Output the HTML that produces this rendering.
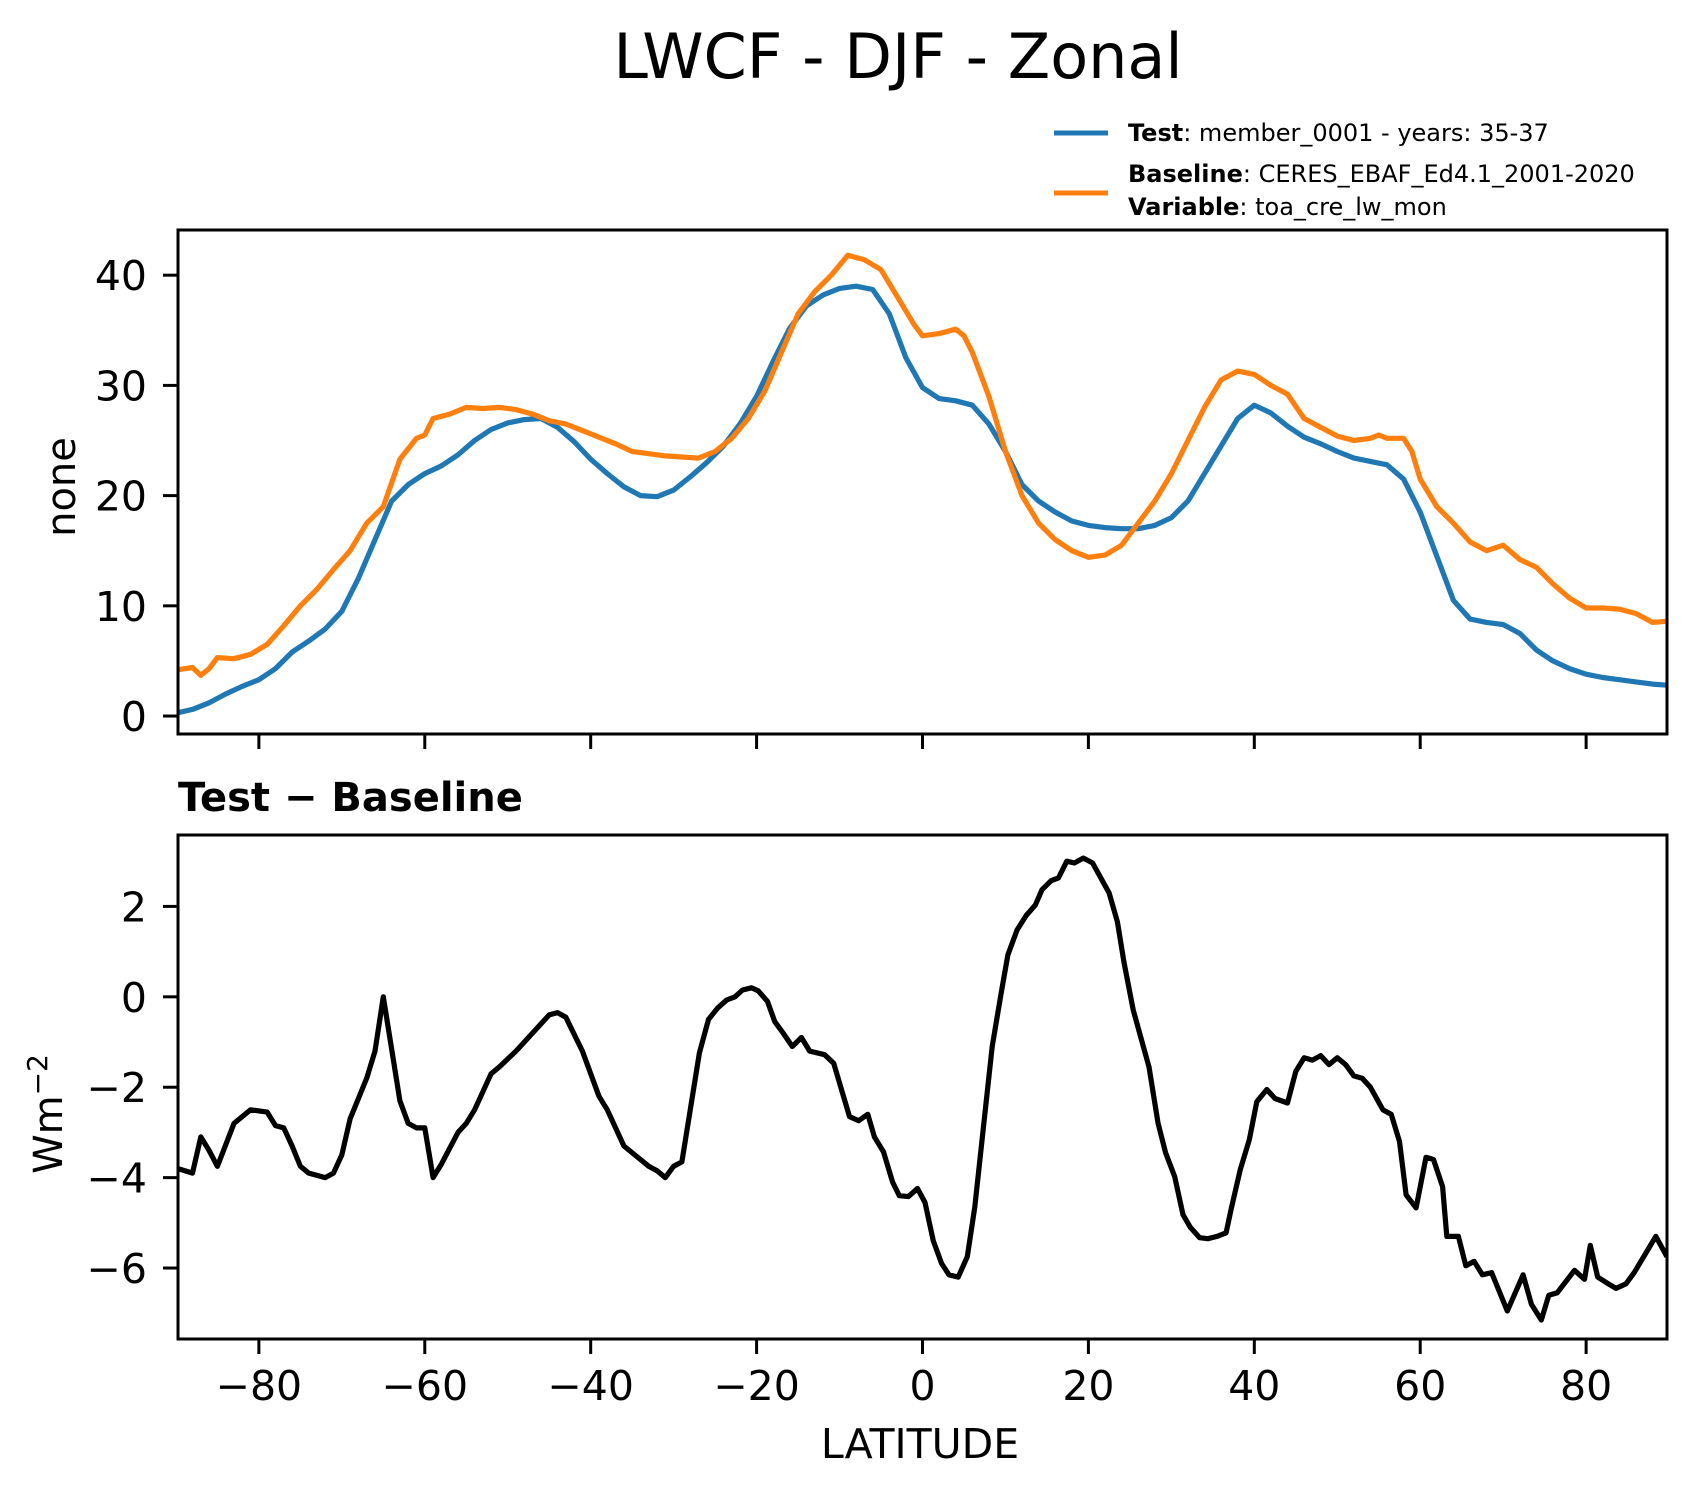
<!DOCTYPE html>
<html><head><meta charset="utf-8"><style>
html,body{margin:0;padding:0;background:#fff;}
svg{display:block;font-family:"DejaVu Sans","Liberation Sans",sans-serif;}
</style></head><body>
<svg id="fig" width="1696" height="1496" viewBox="0 0 1696 1496" xmlns="http://www.w3.org/2000/svg">
<rect width="1696" height="1496" fill="#fff"/>
<text x="898" y="78" font-size="62" text-anchor="middle">LWCF - DJF - Zonal</text>
<g>
 <line x1="1054" y1="133" x2="1108" y2="133" stroke="#1f77b4" stroke-width="5"/>
 <text x="1128" y="141" font-size="24"><tspan font-weight="bold">Test</tspan>: member_0001 - years: 35-37</text>
 <line x1="1054" y1="193" x2="1108" y2="193" stroke="#ff7f0e" stroke-width="5"/>
 <text x="1128" y="182" font-size="24"><tspan font-weight="bold">Baseline</tspan>: CERES_EBAF_Ed4.1_2001-2020</text>
 <text x="1128" y="215" font-size="24"><tspan font-weight="bold">Variable</tspan>: toa_cre_lw_mon</text>
</g>
<g id="gtop"></g>
<g id="gbot"></g>
<text x="178" y="811" font-size="40" font-weight="bold">Test − Baseline</text>
<text transform="translate(75,487) rotate(-90)" font-size="40" text-anchor="middle">none</text>
<text transform="translate(62,1114) rotate(-90)" font-size="40" text-anchor="middle">Wm<tspan dy="-15" font-size="28">−2</tspan></text>
<text x="920" y="1458" font-size="41" text-anchor="middle">LATITUDE</text>
</svg>
<script>
const testLat=[-89.75,-88,-86,-84,-82,-80,-78,-76,-74,-72,-70,-68,-66,-64,-62,-60,-58,-56,-54,-52,-50,-48,-46,-44,-42,-40,-38,-36,-34,-32,-30,-28,-26,-24,-22,-20,-18,-16,-14,-12,-10,-8,-6,-4,-2,0,2,4,6,8,10,12,14,16,18,20,22,24,26,28,30,32,34,36,38,40,42,44,46,48,50,52,54,56,58,60,62,64,66,68,70,72,74,76,78,80,82,84,86,88,89.75];
const testVal=[0.3,0.6,1.2,2,2.7,3.3,4.3,5.8,6.8,7.9,9.5,12.5,16,19.5,21,22,22.7,23.7,25,26,26.6,26.9,27,26.2,24.9,23.3,22,20.8,20,19.9,20.5,21.7,23,24.5,26.5,29,32.2,35.2,37.2,38.2,38.8,39,38.7,36.5,32.5,29.8,28.8,28.6,28.2,26.5,24,21,19.5,18.5,17.7,17.3,17.1,17,17,17.3,18,19.5,22,24.5,27,28.2,27.5,26.3,25.3,24.7,24,23.4,23.1,22.8,21.5,18.5,14.5,10.5,8.8,8.5,8.3,7.5,6,5,4.3,3.8,3.5,3.3,3.1,2.9,2.8];
const baseLat=[-89.75,-88,-87,-86,-85,-83,-81,-79,-77,-75,-73,-71,-69,-67,-65,-63,-61,-60,-59,-57,-55,-53,-51,-49,-47,-45,-43,-41,-39,-37,-35,-33,-31,-29,-27,-25,-23,-21,-19,-17,-15,-13,-11,-9,-7,-5,-3,-1,0,2,4,5,6,8,10,12,14,16,18,20,22,24,26,28,30,32,34,36,38,40,42,44,46,48,50,52,54,55,56,58,59,60,62,64,66,68,70,72,74,76,78,80,82,84,86,88,89.75];
const baseVal=[4.2,4.4,3.7,4.3,5.3,5.2,5.6,6.5,8.2,10,11.5,13.3,15,17.5,19,23.3,25.2,25.5,27,27.4,28,27.9,28,27.8,27.4,26.8,26.5,25.9,25.3,24.7,24,23.8,23.6,23.5,23.4,24,25.2,27,29.5,33,36.5,38.5,40,41.8,41.4,40.5,38,35.5,34.5,34.7,35.1,34.5,33,29,24,20,17.5,16,15,14.4,14.6,15.5,17.5,19.5,22,25,28,30.5,31.3,31,30,29.2,27,26.2,25.4,25,25.2,25.5,25.2,25.2,24,21.5,19,17.5,15.8,15,15.5,14.2,13.5,12,10.7,9.8,9.8,9.7,9.3,8.5,8.6];
const diffLat=[-89.75,-88,-87,-86,-85,-83,-81,-79,-78,-77,-76,-75,-74,-72,-71,-70,-69,-67,-66,-65,-63,-62,-61,-60,-59,-58,-56,-55,-54,-52,-51,-49,-47,-45,-44,-43,-41,-39,-38,-36,-35,-33,-32,-31,-30,-29,-26.9,-25.8,-24.7,-23.6,-22.6,-21.7,-20.6,-19.8,-18.7,-17.8,-16.8,-15.7,-14.6,-13.6,-11.8,-10.7,-8.8,-7.7,-6.6,-5.8,-4.7,-3.6,-2.8,-1.7,-0.6,0.3,1.3,2.3,3.2,4.3,5.4,6.3,7.3,8.4,9.5,10.3,11.4,12.5,13.6,14.4,15.5,16.4,17.4,18.3,19.4,20.5,21.5,22.5,23.5,24.3,25.4,27.3,28.4,29.3,30.4,31.4,32.3,33.4,34.4,35.5,36.6,37.2,38.3,39.4,40.3,41.5,42.5,44,45,46,47,48,49,50,51,52,53,54,55.5,56.5,57.5,58.3,59.5,60.7,61.6,62.7,63.2,64.6,65.5,66.5,67.5,68.6,70.5,72.4,73.4,74.6,75.5,76.5,78.6,79.8,80.5,81.4,82.7,83.6,84.8,85.8,88.4,89.75];
const diffVal=[-3.8,-3.9,-3.1,-3.4,-3.75,-2.8,-2.5,-2.55,-2.85,-2.9,-3.3,-3.75,-3.9,-4,-3.9,-3.5,-2.7,-1.8,-1.2,0,-2.3,-2.8,-2.9,-2.9,-4,-3.7,-3,-2.8,-2.5,-1.7,-1.55,-1.2,-0.8,-0.4,-0.35,-0.45,-1.2,-2.2,-2.5,-3.3,-3.45,-3.75,-3.85,-4,-3.75,-3.65,-1.24,-0.5,-0.25,-0.07,0,0.15,0.2,0.13,-0.1,-0.55,-0.8,-1.1,-0.9,-1.2,-1.28,-1.47,-2.65,-2.74,-2.6,-3.1,-3.43,-4.1,-4.4,-4.42,-4.24,-4.55,-5.4,-5.9,-6.15,-6.2,-5.75,-4.65,-2.95,-1.1,0.1,0.93,1.48,1.8,2.03,2.37,2.57,2.63,3.0,2.96,3.07,2.96,2.63,2.3,1.66,0.75,-0.29,-1.55,-2.8,-3.45,-3.98,-4.82,-5.1,-5.33,-5.35,-5.3,-5.22,-4.7,-3.83,-3.16,-2.32,-2.05,-2.25,-2.35,-1.65,-1.35,-1.4,-1.3,-1.5,-1.35,-1.5,-1.75,-1.8,-2.0,-2.5,-2.6,-3.2,-4.38,-4.67,-3.55,-3.6,-4.2,-5.3,-5.3,-5.95,-5.85,-6.15,-6.1,-6.95,-6.15,-6.8,-7.15,-6.6,-6.55,-6.05,-6.25,-5.5,-6.2,-6.35,-6.45,-6.35,-6.1,-5.3,-5.75];
const xTicks=[-80,-60,-40,-20,0,20,40,60,80];
const topYTicks=[0,10,20,30,40];
const botYTicks=[-6,-4,-2,0,2];

const NS='http://www.w3.org/2000/svg';
const L=178,R=1667;
const xMin=-89.75,xMax=89.75;
const sx=v=>L+(v-xMin)/(xMax-xMin)*(R-L);
const axTop={t:230,b:734,min:-1.63,max:44.1};
const axBot={t:835,b:1339,min:-7.57,max:3.58};
const sy=(ax,v)=>ax.b-(v-ax.min)/(ax.max-ax.min)*(ax.b-ax.t);
function mk(tag,attrs,parent){const e=document.createElementNS(NS,tag);for(const k in attrs)e.setAttribute(k,attrs[k]);parent.appendChild(e);return e;}
function fmt(v){return v<0?'−'+Math.abs(v):String(v);}
function panel(g,ax,yt,showX){
  const clipId='clip'+ax.t;
  const cp=mk('clipPath',{id:clipId},g);
  mk('rect',{x:L,y:ax.t,width:R-L,height:ax.b-ax.t},cp);
  for(const t of xTicks){
    const ln=mk('line',{x1:sx(t),x2:sx(t),y1:ax.b,y2:ax.b+15,stroke:'#000','stroke-width':3},g);
    
    
    if(showX){
      const tx=mk('text',{x:sx(t),y:1400,'font-size':41,'text-anchor':'middle'},g);
      tx.textContent=fmt(t);
      
      
    }
  }
  for(const t of yt){
    const y=sy(ax,t);
    const ln=mk('line',{x1:L-15,x2:L,y1:y,y2:y,stroke:'#000','stroke-width':3},g);
    
    
    const tx=mk('text',{x:147,y:y+15,'font-size':41,'text-anchor':'end'},g);
    tx.textContent=fmt(t);
    
    
  }
  return clipId;
}
function series(g,ax,lat,val,color,name,clipId){
  const d=lat.map((la,i)=>(i?'L':'M')+sx(la).toFixed(1)+','+sy(ax,val[i]).toFixed(1)).join(' ');
  const p=mk('path',{d:d,fill:'none',stroke:color,'stroke-width':5.2,'stroke-linejoin':'round','clip-path':'url(#'+clipId+')'},g);
  
  
}
const gt=document.getElementById('gtop'),gb=document.getElementById('gbot');
const c1=panel(gt,axTop,topYTicks,false);
series(gt,axTop,testLat,testVal,'#1f77b4','test-line',c1);
series(gt,axTop,baseLat,baseVal,'#ff7f0e','baseline-line',c1);
const f1=mk('rect',{x:L,y:axTop.t,width:R-L,height:axTop.b-axTop.t,fill:'none',stroke:'#000','stroke-width':3},gt);


const c2=panel(gb,axBot,botYTicks,true);
series(gb,axBot,diffLat,diffVal,'#000','difference-line',c2);
const f2=mk('rect',{x:L,y:axBot.t,width:R-L,height:axBot.b-axBot.t,fill:'none',stroke:'#000','stroke-width':3},gb);


</script>
</body></html>
